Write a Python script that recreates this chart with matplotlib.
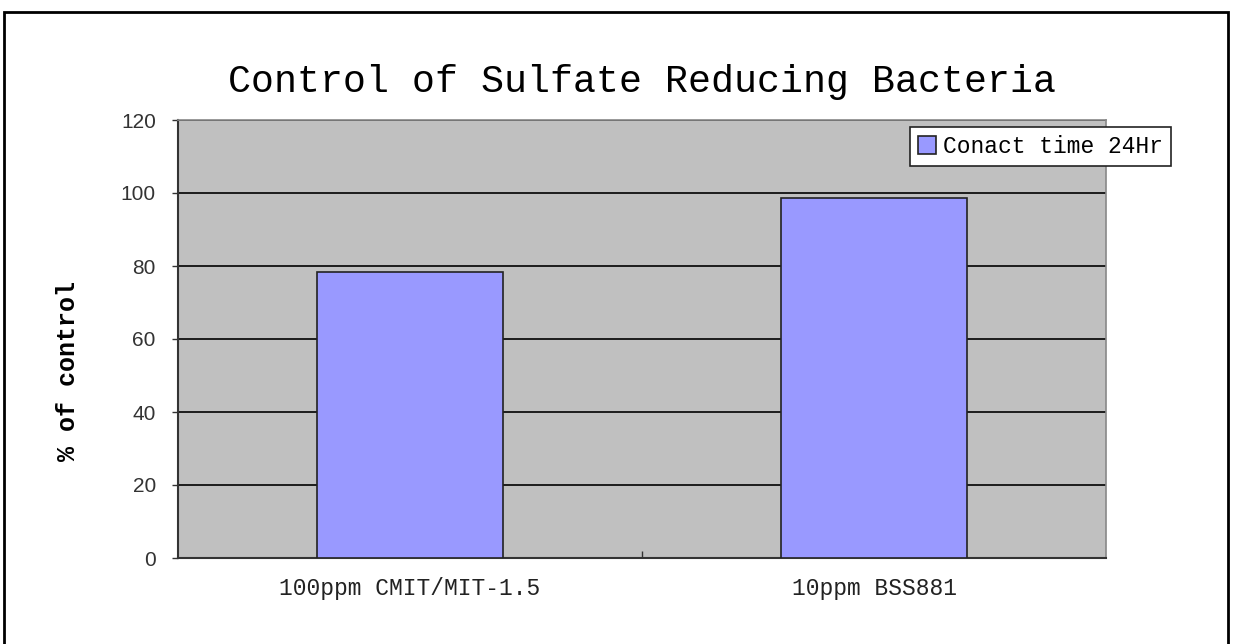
import numpy as np
import matplotlib
matplotlib.use("Agg")
import matplotlib.pyplot as plt
from matplotlib.patches import Rectangle

# chart data
categories = ["100ppm CMIT/MIT-1.5", "10ppm BSS881"]
values = [78.3, 98.7]
series_name = "Conact time 24Hr"
yticks = [0, 20, 40, 60, 80, 100, 120]

fig = plt.figure(figsize=(12.33, 6.44), dpi=100)
fig.patch.set_facecolor("white")

# outer frame like the spreadsheet chart area
fig.add_artist(Rectangle((4 / 1233, -0.01), 1224 / 1233, 1 - 12 / 644 + 0.01,
                         transform=fig.transFigure, fill=False,
                         edgecolor="black", linewidth=2))

ax = fig.add_axes([178 / 1233, 1 - 558 / 644, 928 / 1233, 438 / 644])
ax.set_facecolor("#c0c0c0")

x = np.arange(len(categories))
bars = ax.bar(x, values, width=0.4, color="#9999ff", edgecolor="#222222",
              linewidth=1.2, label=series_name, zorder=3)

ax.set_xlim(-0.5, len(categories) - 0.5)
ax.set_ylim(0, 120)
ax.set_yticks(yticks)
ax.yaxis.grid(True, color="black", linewidth=1.2, zorder=1)
ax.set_axisbelow(True)

ax.set_xticks(x)
ax.set_xticklabels(categories, family="Liberation Mono", fontsize=16.5, color="#222222")
ax.tick_params(axis="x", length=0, pad=14)
# small inward tick between categories
ax.set_xticks([0.5], minor=True)
ax.tick_params(axis="x", which="minor", direction="in", length=5, width=1, color="#333333")

ax.tick_params(axis="y", length=4, width=1, color="#333333", labelsize=15,
               labelcolor="#333333", pad=12)
for t in ax.get_yticklabels():
    t.set_family("Liberation Sans")

for side in ["left", "bottom"]:
    ax.spines[side].set_color("#333333")
    ax.spines[side].set_linewidth(1.5)
for side in ["top", "right"]:
    ax.spines[side].set_color("#888888")
    ax.spines[side].set_linewidth(1.2)

fig.text(68 / 1233, 1 - 371 / 644, "% of control", rotation=90,
         ha="center", va="center", family="Liberation Mono",
         fontweight="bold", fontsize=18)

fig.text(642 / 1233, 1 - 82 / 644, "Control of Sulfate Reducing Bacteria",
         ha="center", va="center", family="Liberation Mono", fontsize=27.5)

leg = ax.legend(loc="upper left", bbox_to_anchor=(910 / 1233, 1 - 127 / 644),
                bbox_transform=fig.transFigure, prop={"family": "Liberation Mono", "size": 16.5},
                frameon=True, fancybox=False, framealpha=1, edgecolor="#222222",
                handlelength=0.8, handleheight=0.8, handletextpad=0.3,
                borderpad=0.35, borderaxespad=0)
leg.get_frame().set_linewidth(1.2)

fig.savefig("out.png", dpi=100)
